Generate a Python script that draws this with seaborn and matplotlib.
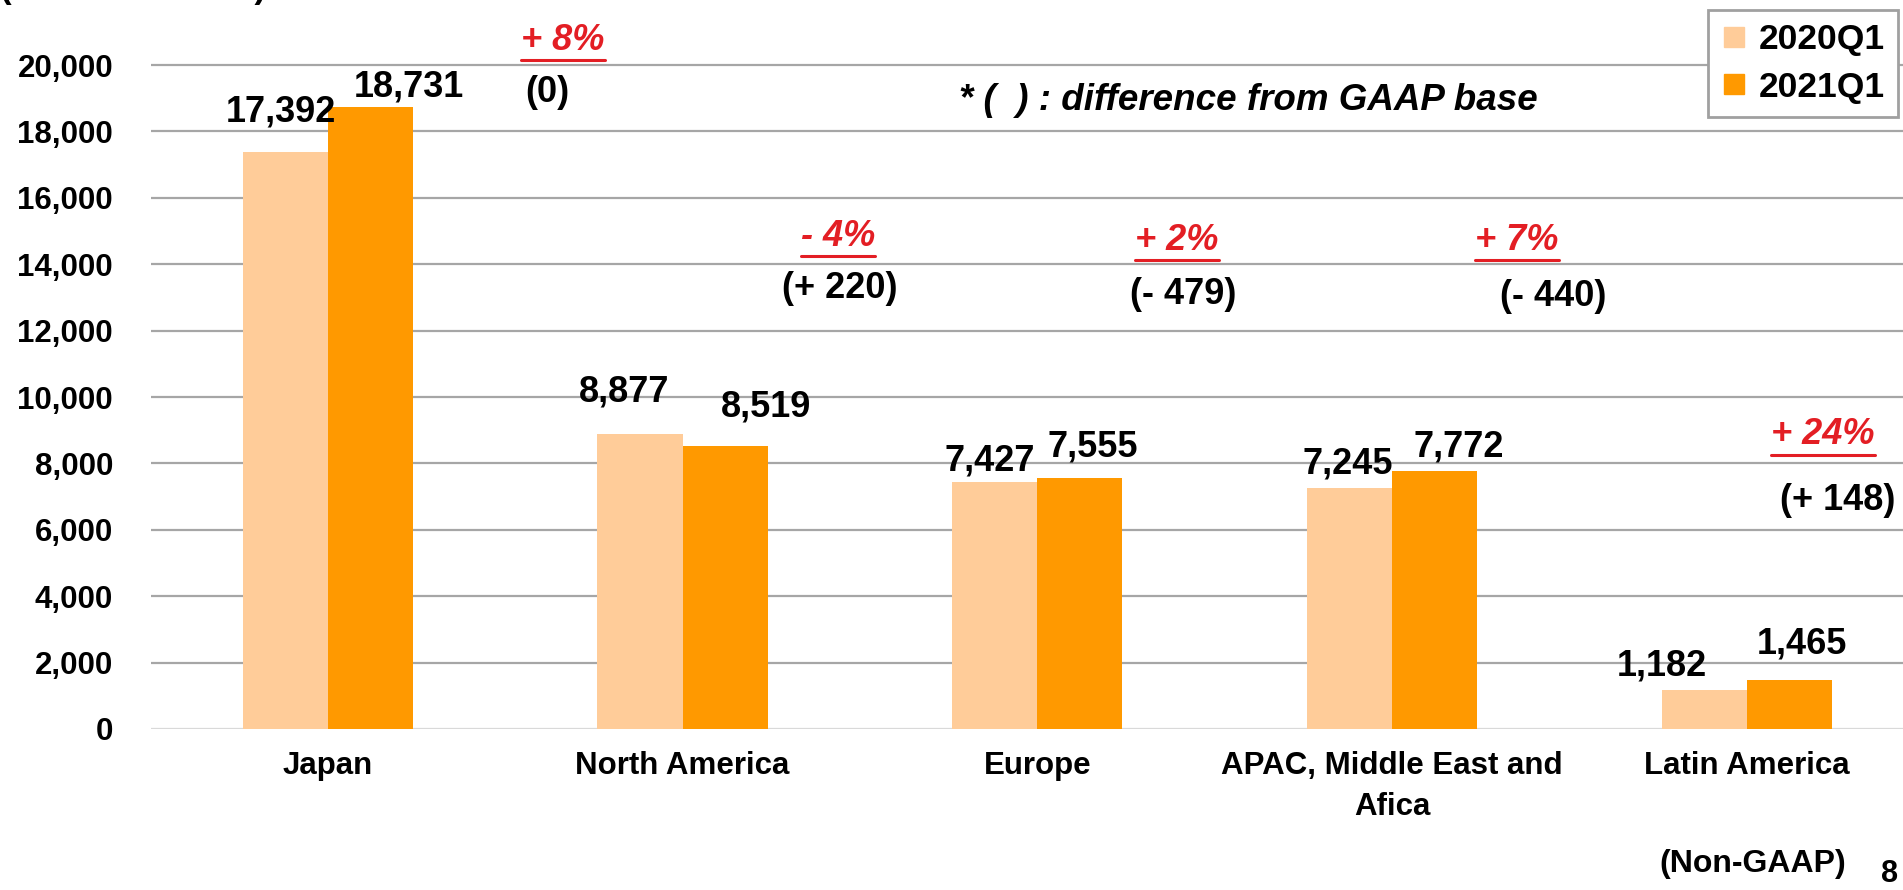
import pandas as pd
import matplotlib
matplotlib.use("Agg")
import matplotlib.pyplot as plt
from matplotlib.lines import Line2D
import seaborn as sns

# data (Non-GAAP revenue by region)
regions = ["Japan", "North America", "Europe", "APAC, Middle East and\nAfica", "Latin America"]
periods = ["2020Q1", "2021Q1"]
rev_2020q1 = [17392, 8877, 7427, 7245, 1182]
rev_2021q1 = [18731, 8519, 7555, 7772, 1465]
growth = ["+ 8%", "- 4%", "+ 2%", "+ 7%", "+ 24%"]
gaap_diff = ["(0)", "(+ 220)", "(- 479)", "(- 440)", "(+ 148)"]
yticks = list(range(0, 20001, 2000))

df = pd.DataFrame({
    "region": regions * 2,
    "period": [periods[0]] * 5 + [periods[1]] * 5,
    "revenue": rev_2020q1 + rev_2021q1,
})

sns.set_style("white")
plt.rcParams["font.family"] = ["Liberation Sans", "DejaVu Sans"]
plt.rcParams["font.weight"] = "bold"
plt.rcParams["text.color"] = "black"
plt.rcParams["xtick.color"] = "black"
plt.rcParams["ytick.color"] = "black"

W, H = 1903, 890
fig = plt.figure(figsize=(W / 100, H / 100), dpi=100)
ax = fig.add_axes([150.6 / W, (H - 729) / H, (1924 - 150.6) / W, 730.4 / H])

colors = ["#FFCC99", "#FF9900"]
sns.barplot(data=df, x="region", y="revenue", hue="period", palette=colors,
            width=0.48, errorbar=None, saturation=1, ax=ax, legend=False,
            linewidth=0)

# value labels, nudged like on the slide (pixels: dx, baseline above bar top)
nudges = [
    [(-4, 30), (-16, 33), (-5, 12), (-2, 15), (-42, 14)],
    [(38, 11), (41, 30), (13, 22), (24, 14), (13, 27)],
]
for cont, nud in zip(ax.containers, nudges):
    for bar, val, (dx, dy) in zip(cont.patches, cont.datavalues, nud):
        ax.annotate(f"{val:,.0f}", xy=(bar.get_x() + bar.get_width() / 2, bar.get_height()),
                    xytext=(dx, dy), textcoords="offset pixels", ha="center",
                    va="baseline", fontsize=26, fontweight="bold", annotation_clip=False)

ax.set_xlim(-0.5, 4.5)
ax.set_ylim(0, 22000)
ax.set_yticks(yticks)
ax.set_yticklabels([f"{t:,}" for t in yticks], fontsize=22.5, fontweight="bold")
ax.set_xticks(range(len(regions)))
ax.set_xticklabels(regions, fontsize=22.5, fontweight="bold", linespacing=1.45)
ax.tick_params(axis="y", length=0, pad=27)
ax.tick_params(axis="x", length=0, pad=16)
ax.set_xlabel("")
ax.set_ylabel("")
ax.set_axisbelow(True)
ax.yaxis.grid(True, color="#A6A6A6", linewidth=1.6)
ax.get_ygridlines()[0].set_color("#D9D9D9")
sns.despine(ax=ax, left=True, bottom=True, right=True, top=True)


def fx(x):
    return x / W


def fy(y):
    return 1 - y / H


# growth rates (red, italic, underlined) and GAAP differences
growth_pos = [(563, 40), (838, 236), (1177, 240), (1517, 240), (1823, 435)]
diff_pos = [(547, 93), (840, 289), (1183, 295), (1553, 297), (1838, 500)]
red = "#E31E24"
growth_texts = []
for lab, (x, y) in zip(growth, growth_pos):
    t = fig.text(fx(x), fy(y), lab, color=red, fontsize=26, fontweight="bold",
                 fontstyle="italic", ha="center", va="center")
    growth_texts.append(t)
for lab, (x, y) in zip(gaap_diff, diff_pos):
    fig.text(fx(x), fy(y), lab, color="black", fontsize=26, fontweight="bold",
             ha="center", va="center")

fig.text(fx(959), fy(100), "* (  ) : difference from GAAP base", fontsize=26.5,
         fontweight="bold", fontstyle="italic", ha="left", va="center")
fig.text(fx(1753), fy(864), "(Non-GAAP)", fontsize=23, fontweight="bold",
         ha="center", va="center")
fig.text(fx(1890), fy(874), "8", fontsize=22, fontweight="bold",
         ha="center", va="center")
# unit label, mostly cut off at the top of the slide
fig.text(fx(0), fy(-2), "(Millions of Yen)", fontsize=25, fontweight="bold",
         ha="left", va="baseline")

handles = [Line2D([], [], marker="s", linestyle="", markersize=15,
                  markerfacecolor=c, markeredgecolor=c) for c in colors]
leg = fig.legend(handles, periods, loc="upper right",
                 bbox_to_anchor=(fx(1898), fy(10)), borderaxespad=0,
                 handlelength=0.7, handletextpad=0.35,
                 labelspacing=0.4, borderpad=0.38, fancybox=False,
                 framealpha=1, edgecolor="#A0A0A0",
                 prop={"weight": "bold", "size": 25.5})
leg.get_frame().set_linewidth(2)

# underline the growth rates
fig.canvas.draw()
for t in growth_texts:
    bb = t.get_window_extent()
    yy = (bb.y0 - 2) / H
    fig.add_artist(Line2D([bb.x0 / W, bb.x1 / W], [yy, yy], color=red, linewidth=2.2))

fig.savefig("out.png", dpi=100)
